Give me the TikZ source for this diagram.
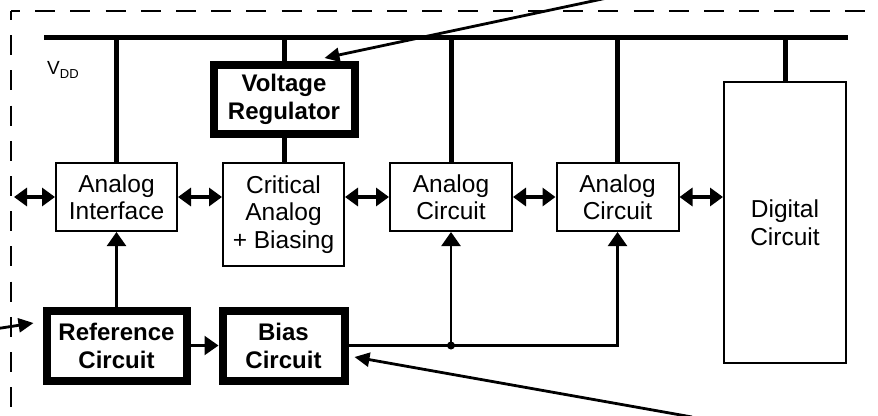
\documentclass[tikz,border=0pt]{standalone}
\usepackage{fontspec}
\setmainfont{Liberation Sans}
\usetikzlibrary{arrows.meta}

\begin{document}
\begin{tikzpicture}[x=1pt, y=-1pt,
    block/.style={draw, line width=2pt, minimum width=121pt, minimum height=68pt,
        inner sep=0pt, align=center, font=\fontsize{24.5}{27.5}\selectfont},
    keyblock/.style={block, line width=8pt, minimum height=70pt,
        font=\fontsize{24}{28}\selectfont\bfseries},
    rail/.style={line width=5pt},
    link/.style={line width=3.5pt,
        {Triangle[length=13pt,width=18pt]}-{Triangle[length=13pt,width=18pt]}},
    feed/.style={line width=2.2pt, -{Triangle[length=14pt,width=19pt]}},
    pointer/.style={line width=2.8pt, -{Triangle[length=15pt,width=14pt]}},
    frame/.style={line width=2.4pt, dash pattern=on 20pt off 15.2pt, dash phase=11pt}]
    \definecolor{lineColour}{HTML}{000000}

    \def\linkY{197}

    \useasboundingbox (0,0) rectangle (878,415);

    % Draw chip boundary
    \draw[frame] (11,11) -- (866,11);
    \draw[frame] (11,11) -- (11,418);

    % Draw supply rail
    \coordinate (railL) at (44,37);
    \coordinate (railR) at (848,37);
    \draw[rail] (railL) -- (railR);
    \node[anchor=base west, inner sep=0pt, font=\fontsize{19}{19}\selectfont] (vdd) at (47,74)
        {V\raisebox{-4pt}{\fontsize{13}{13}\selectfont DD}};

    % Define blocks
    \node[keyblock, minimum width=141pt, minimum height=69pt] (VR) at (284,99) {Voltage\\Regulator};
    \node[block] (AI) at (116.5,\linkY) {Analog\\Interface};
    \node[block, minimum height=103pt] (CA) at (283.5,214.5) {Critical\\Analog\\+ Biasing};
    \node[block, minimum width=122pt] (AC1) at (451,\linkY) {Analog\\Circuit};
    \node[block, minimum width=122pt] (AC2) at (617.5,\linkY) {Analog\\Circuit};
    \node[block, minimum width=122pt, minimum height=281pt] (DC) at (785,222.5) {Digital\\Circuit};
    \node[keyblock, minimum width=140pt] (Ref) at (116.5,345.5) {Reference\\Circuit};
    \node[keyblock, minimum width=122pt] (Bias) at (283.5,345.5) {Bias\\Circuit};

    % Draw supply taps
    \draw[rail] (AI.north |- railL) -- (AI.north);
    \draw[rail] (VR.north |- railL) -- (VR.north);
    \draw[rail] (VR.south) -- (VR.south |- CA.north);
    \draw[rail] (AC1.north |- railL) -- (AC1.north);
    \draw[rail] (AC2.north |- railL) -- (AC2.north);
    \draw[rail] (DC.north |- railL) -- (DC.north);

    % Draw signal links
    \coordinate (ioL) at (14,\linkY);
    \draw[link] (ioL) -- (AI.west);
    \draw[link] (AI.east) -- (CA.west |- AI.east);
    \draw[link] (CA.east |- AC1.west) -- (AC1.west);
    \draw[link] (AC1.east) -- (AC2.west);
    \draw[link] (AC2.east) -- (DC.west |- AC2.east);

    % Draw bias distribution
    \draw[feed] (Ref.north) -- (AI.south);
    \draw[feed] (Ref.east) -- (Bias.west);
    \coordinate (tap) at (AC1.south |- Bias.east);
    \draw[line width=2.2pt] (Bias.east) -- (AC2.south |- Bias.east) -- ++(0,-1);
    \draw[feed] (AC2.south |- Bias.east) -- (AC2.south);
    \draw[feed] (tap) -- (AC1.south);
    \fill[lineColour] (tap) circle (4pt);

    % Draw callout pointers
    \coordinate (vrSrc) at (607,-2);
    \coordinate (refSrc) at (-2,328.5);
    \coordinate (biasSrc) at (692,417);
    \draw[pointer] (vrSrc) -- ([xshift=-34pt,yshift=2.5pt]VR.north east);
    \draw[pointer] (refSrc) -- ([xshift=-9pt,yshift=22.5pt]Ref.west);
    \draw[pointer] (biasSrc) -- ([xshift=6pt,yshift=-11.5pt]Bias.east);

\end{tikzpicture}
\end{document}
